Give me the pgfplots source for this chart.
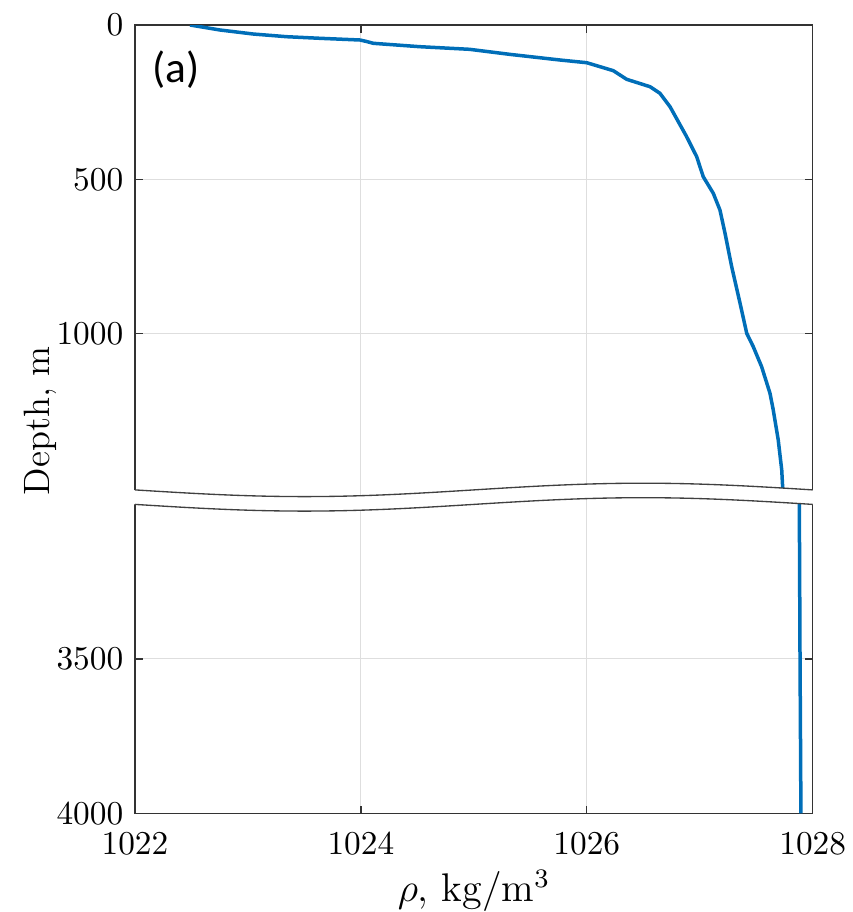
\documentclass[border=0pt]{standalone}
\usepackage{pgfplots}
\pgfplotsset{compat=1.18}
\usepackage{fontspec}
\newfontfamily\calibri{Carlito}
\definecolor{mblue}{RGB}{0,110,184}
\pgfplotsset{
  brk/.style={
    scale only axis, width=203.31pt,
    xmin=1022, xmax=1028, y dir=reverse,
    xtick={1022,1024,1026,1028},
    /pgf/number format/set thousands separator={},
    grid=major, major grid style={line width=0.3pt, draw=black!13},
    axis line style={line width=0.4pt, draw=black!80},
    every tick/.style={line width=0.4pt, draw=black!80},
    tick align=inside, major tick length=2.3pt,
    tick label style={font=\fontsize{10.4}{12}\selectfont},
    clip=true,
  }
}
\begin{document}
\begin{tikzpicture}
\useasboundingbox (0,0) rectangle (255.6pt,273.6pt);
% top panel
\begin{scope}
\clip (-10pt,300pt) -- (-10pt,126.63pt) -- (40.5pt,126.63pt) sin (91.33pt,124.62pt) cos (142.16pt,126.63pt) sin (192.98pt,128.64pt) cos (243.81pt,126.63pt) -- (300pt,126.63pt) -- (300pt,300pt) -- cycle;
\begin{axis}[brk, height=144.47pt, ymin=0, ymax=1560,
  ytick={0,500,1000}, xticklabels={},
  at={(40.5pt,121.63pt)}, anchor=south west]
\addplot[mblue, line width=1.05pt, line join=round] coordinates {
(1022.487,0) (1022.753,16.2) (1023.047,29.2) (1023.343,37.9) (1023.638,43.1)
(1023.992,48.6) (1024.051,53.5) (1024.110,59.3) (1024.523,70.3) (1024.960,78.7)
(1025.314,94.9) (1025.763,113.4) (1025.999,122.1) (1026.235,148.0) (1026.353,175.9)
(1026.560,199.9) (1026.648,221.3) (1026.737,264.7) (1026.884,361.8) (1026.973,426.6)
(1027.031,491.4) (1027.120,545.2) (1027.179,599.3) (1027.224,674.8) (1027.283,783.0)
(1027.357,901.5) (1027.416,998.7) (1027.474,1042.1) (1027.548,1106.9) (1027.622,1193.0)
(1027.651,1247.2) (1027.695,1344.3) (1027.726,1441.5) (1027.734,1495.6) (1027.738,1540)
};
\end{axis}
\end{scope}
% bottom panel
\begin{scope}
\clip (-10pt,-50pt) -- (-10pt,122.28pt) -- (40.5pt,122.28pt) sin (91.33pt,120.27pt) cos (142.16pt,122.28pt) sin (192.98pt,124.29pt) cos (243.81pt,122.28pt) -- (300pt,122.28pt) -- (300pt,-50pt) -- cycle;
\begin{axis}[brk, height=98.17pt, ymin=2940, ymax=4000,
  ytick={3500,4000},
  xticklabel style={yshift=-2.5pt},
  at={(40.5pt,29.61pt)}, anchor=south west]
\addplot[mblue, line width=1.05pt] coordinates {
(1027.881,2940) (1027.888,3500) (1027.896,4000)
};
\end{axis}
\end{scope}
% break lines
\draw[line width=0.4pt, black!75] (40.5pt,126.63pt) sin (91.33pt,124.62pt) cos (142.16pt,126.63pt) sin (192.98pt,128.64pt) cos (243.81pt,126.63pt);
\draw[line width=0.4pt, black!75] (40.5pt,122.28pt) sin (91.33pt,120.27pt) cos (142.16pt,122.28pt) sin (192.98pt,124.29pt) cos (243.81pt,122.28pt);
% labels
\node[anchor=base, inner sep=0pt, font=\fontsize{12}{14}\selectfont] at (142.2pt,3.1pt) {$\rho$, kg/m$^3$};
\node[anchor=base, rotate=90, inner sep=0pt, font=\fontsize{11}{13}\selectfont] at (15pt,147.4pt) {Depth, m};
\node[anchor=west, inner sep=0pt, font=\calibri\fontsize{13}{15}\selectfont] at (45.5pt,252.8pt) {(a)};
\end{tikzpicture}
\end{document}
